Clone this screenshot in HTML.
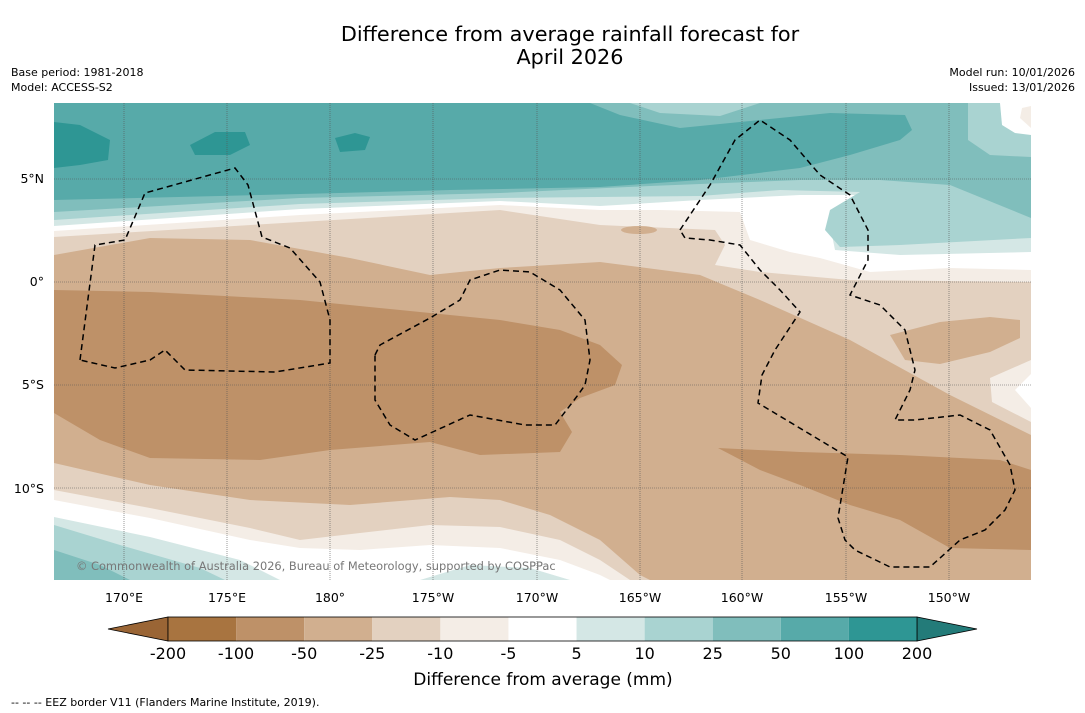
<!DOCTYPE html>
<html><head><meta charset="utf-8"><style>
body{margin:0;background:#fff;font-family:"DejaVu Sans","Liberation Sans",sans-serif;}
#wrap{position:relative;width:1085px;height:713px;overflow:hidden;background:#fff;}
</style></head><body>
<div id="wrap">
<svg width="1085" height="713" xmlns="http://www.w3.org/2000/svg" font-family="DejaVu Sans, Liberation Sans, sans-serif">
<text x="570" y="41" text-anchor="middle" font-size="20.8">Difference from average rainfall forecast for</text>
<text x="570" y="64" text-anchor="middle" font-size="20.8">April 2026</text>
<text x="11" y="76" font-size="11">Base period: 1981-2018</text>
<text x="11" y="91" font-size="11">Model: ACCESS-S2</text>
<text x="1075" y="76" font-size="11" text-anchor="end">Model run: 10/01/2026</text>
<text x="1075" y="91" font-size="11" text-anchor="end">Issued: 13/01/2026</text>
<defs><clipPath id="mc"><rect x="54" y="103" width="977" height="477"/></clipPath></defs>
<g clip-path="url(#mc)">
<rect x="54" y="103" width="977" height="477" fill="#e3d1c0"/>
<path fill="#d1af8f" d="M54,255 L150,238 L250,240 L350,258 L430,275 L500,268 L600,262 L700,275 L760,300 L850,340 L950,395 L1031,435 L1031,580 L650,580 L640,575 L600,540 L550,515 L500,500 L450,497 L350,505 L250,500 L150,485 L54,463Z"/>
<path fill="#be9168" d="M54,290 L150,292 L300,300 L400,310 L500,320 L560,330 L600,345 L622,365 L615,385 L580,398 L560,412 L572,432 L560,452 L480,455 L430,442 L330,450 L260,460 L150,458 L100,440 L54,413Z"/>
<path fill="#be9168" d="M718,448 L800,452 L900,455 L1000,460 L1031,470 L1031,550 L950,548 L900,520 L850,505 L800,485 L760,470Z"/>
<path fill="#d1af8f" d="M890,335 L940,322 L990,317 L1020,320 L1020,338 L990,352 L940,364 L905,360Z"/>
<path fill="#f4ede6" d="M1031,360 L990,378 L992,402 L1031,422Z"/>
<path fill="#fff" d="M1031,374 L1015,390 L1031,408Z"/>
<path fill="#f4ede6" d="M54,103 L1031,103 L1031,282 L850,280 L760,272 L715,265 L725,245 L715,230 L600,225 L500,210 L300,222 L54,237Z"/>
<path fill="#fff" d="M54,103 L1031,103 L1031,270 L950,268 L870,272 L820,258 L790,252 L750,240 L740,212 L660,210 L600,210 L500,205 L300,215 L54,231Z"/>
<path fill="#d4e7e5" d="M54,103 L1031,103 L1031,252 L900,255 L835,250 L830,225 L850,210 L860,195 L800,195 L700,200 L600,206 L500,201 L300,209 L54,226Z"/>
<path fill="#a9d3d1" d="M54,103 L1031,103 L1031,238 L900,245 L840,247 L825,230 L830,210 L860,192 L780,190 L700,196 L500,198 L300,204 L54,220Z"/>
<path fill="#80bebc" d="M54,103 L1031,103 L1031,218 L950,185 L880,180 L800,180 L650,186 L500,193 L300,198 L54,212Z"/>
<path fill="#57aaa9" d="M54,103 L590,103 L620,115 L680,128 L760,120 L830,113 L905,115 L912,130 L900,140 L850,155 L800,168 L700,180 L600,187 L450,190 L300,194 L54,200Z"/>
<path fill="#a9d3d1" d="M630,103 L660,113 L720,116 L760,103Z"/>
<path fill="#a9d3d1" d="M968,103 L968,140 L990,155 L1031,157 L1031,103Z"/>
<path fill="#fff" d="M1000,103 L1002,125 L1015,133 L1031,135 L1031,103Z"/>
<path fill="#f4ede6" d="M1022,108 L1020,118 L1031,128 L1031,106Z"/>
<path fill="#2e9694" d="M54,122 L80,125 L110,140 L108,160 L80,165 L54,168Z"/>
<path fill="#2e9694" d="M190,145 L215,132 L245,132 L250,145 L230,155 L195,155Z"/>
<path fill="#2e9694" d="M335,138 L355,133 L370,137 L365,150 L340,152Z"/>
<ellipse cx="639" cy="230" rx="18" ry="4" fill="#d1af8f"/>
<path fill="#f4ede6" d="M54,490 L150,508 L250,528 L300,540 L360,533 L430,525 L500,527 L560,540 L600,560 L630,580 L54,580Z"/>
<path fill="#fff" d="M54,500 L150,518 L250,540 L300,548 L360,550 L430,545 L500,548 L560,560 L600,575 L610,580 L54,580Z"/>
<path fill="#d4e7e5" d="M54,517 L150,537 L240,560 L280,580 L54,580Z"/>
<path fill="#d4e7e5" d="M420,580 L470,565 L530,568 L570,580Z"/>
<path fill="#a9d3d1" d="M54,525 L120,545 L200,568 L225,580 L54,580Z"/>
<path fill="#80bebc" d="M54,550 L100,565 L130,580 L54,580Z"/>
<g stroke="#555" stroke-width="0.6" stroke-dasharray="1,1">
<line x1="124" y1="103" x2="124" y2="580"/><line x1="227" y1="103" x2="227" y2="580"/><line x1="330" y1="103" x2="330" y2="580"/><line x1="433" y1="103" x2="433" y2="580"/><line x1="537" y1="103" x2="537" y2="580"/><line x1="640" y1="103" x2="640" y2="580"/><line x1="742" y1="103" x2="742" y2="580"/><line x1="846" y1="103" x2="846" y2="580"/><line x1="949" y1="103" x2="949" y2="580"/>
<line x1="54" y1="179" x2="1031" y2="179"/><line x1="54" y1="282" x2="1031" y2="282"/><line x1="54" y1="385" x2="1031" y2="385"/><line x1="54" y1="488" x2="1031" y2="488"/>
</g>
<g fill="none" stroke="#000" stroke-width="1.5" stroke-dasharray="6,4">
<path d="M80,360 L95,245 L125,240 L145,193 L235,168 L248,185 L262,237 L290,248 L320,282 L330,320 L330,363 L275,372 L185,370 L165,350 L150,360 L115,368 Z"/>
<path d="M375,355 L380,345 L430,318 L460,300 L470,280 L500,270 L530,272 L560,290 L585,320 L590,360 L585,385 L578,395 L555,425 L525,425 L470,415 L415,440 L390,425 L375,400 Z"/>
<path d="M680,230 L690,215 L710,185 L735,140 L760,120 L790,140 L820,175 L850,195 L868,230 L868,260 L850,295 L880,305 L905,330 L915,370 L910,390 L895,420 L915,420 L960,415 L990,430 L1010,465 L1015,490 L1005,510 L985,530 L960,540 L930,567 L890,567 L855,550 L845,540 L838,518 L848,457 L758,403 L762,375 L775,350 L800,312 L780,290 L760,270 L740,245 L710,240 L685,238 Z"/>
</g>
<text x="76" y="570" font-size="11.4" fill="#777">© Commonwealth of Australia 2026, Bureau of Meteorology, supported by COSPPac</text>
</g>
<g font-size="12.5">
<text x="44" y="183" text-anchor="end">5°N</text><text x="44" y="286" text-anchor="end">0°</text><text x="44" y="389" text-anchor="end">5°S</text><text x="44" y="493" text-anchor="end">10°S</text>
</g>
<g font-size="12.5" text-anchor="middle">
<text x="124" y="602">170°E</text><text x="227" y="602">175°E</text><text x="330" y="602">180°</text><text x="433" y="602">175°W</text><text x="537" y="602">170°W</text><text x="640" y="602">165°W</text><text x="742" y="602">160°W</text><text x="846" y="602">155°W</text><text x="949" y="602">150°W</text>
</g>
<g id="cbar"></g>
<text x="543" y="685" text-anchor="middle" font-size="17">Difference from average (mm)</text>
<text x="11" y="706" font-size="11">--  --  -- EEZ border V11 (Flanders Marine Institute, 2019).</text>
</svg>
</div>
<script>
const levels = ["-200","-100","-50","-25","-10","-5","5","10","25","50","100","200"];
const boxColors = ["#a87440","#be9168","#d1af8f","#e3d1c0","#f4ede6","#ffffff","#d4e7e5","#a9d3d1","#80bebc","#57aaa9","#2e9694"];
const under = "#9a6535", over = "#237b79";
const ns = "http://www.w3.org/2000/svg";
const g = document.getElementById('cbar');
const x0 = 168, x1 = 917, y0 = 617, h = 24;
const w = (x1 - x0) / boxColors.length;
function xOf(i){ return x0 + i * w; }
let lt = document.createElementNS(ns,'polygon');
lt.setAttribute('points', `108,${y0+h/2} ${x0},${y0} ${x0},${y0+h}`);
lt.setAttribute('fill', under); lt.setAttribute('stroke','#000'); lt.setAttribute('stroke-width','0.8');


g.appendChild(lt);
let rt = document.createElementNS(ns,'polygon');
rt.setAttribute('points', `${x1},${y0} ${x1},${y0+h} 977,${y0+h/2}`);
rt.setAttribute('fill', over); rt.setAttribute('stroke','#000'); rt.setAttribute('stroke-width','0.8');


g.appendChild(rt);
boxColors.forEach((c,i)=>{
  const r = document.createElementNS(ns,'rect');
  r.setAttribute('x', xOf(i)); r.setAttribute('y', y0); r.setAttribute('width', w); r.setAttribute('height', h);
  r.setAttribute('fill', c);
  
  
  g.appendChild(r);
});
const fr = document.createElementNS(ns,'rect');
fr.setAttribute('x', x0); fr.setAttribute('y', y0); fr.setAttribute('width', x1-x0); fr.setAttribute('height', h);
fr.setAttribute('fill','none'); fr.setAttribute('stroke','#000'); fr.setAttribute('stroke-width','0.8');


g.appendChild(fr);
levels.forEach((l,i)=>{
  const t = document.createElementNS(ns,'text');
  t.setAttribute('x', xOf(i)); t.setAttribute('y', 659);
  t.setAttribute('text-anchor','middle'); t.setAttribute('font-size','16');
  t.textContent = l;
  
  
  g.appendChild(t);
});
</script>
</body></html>
